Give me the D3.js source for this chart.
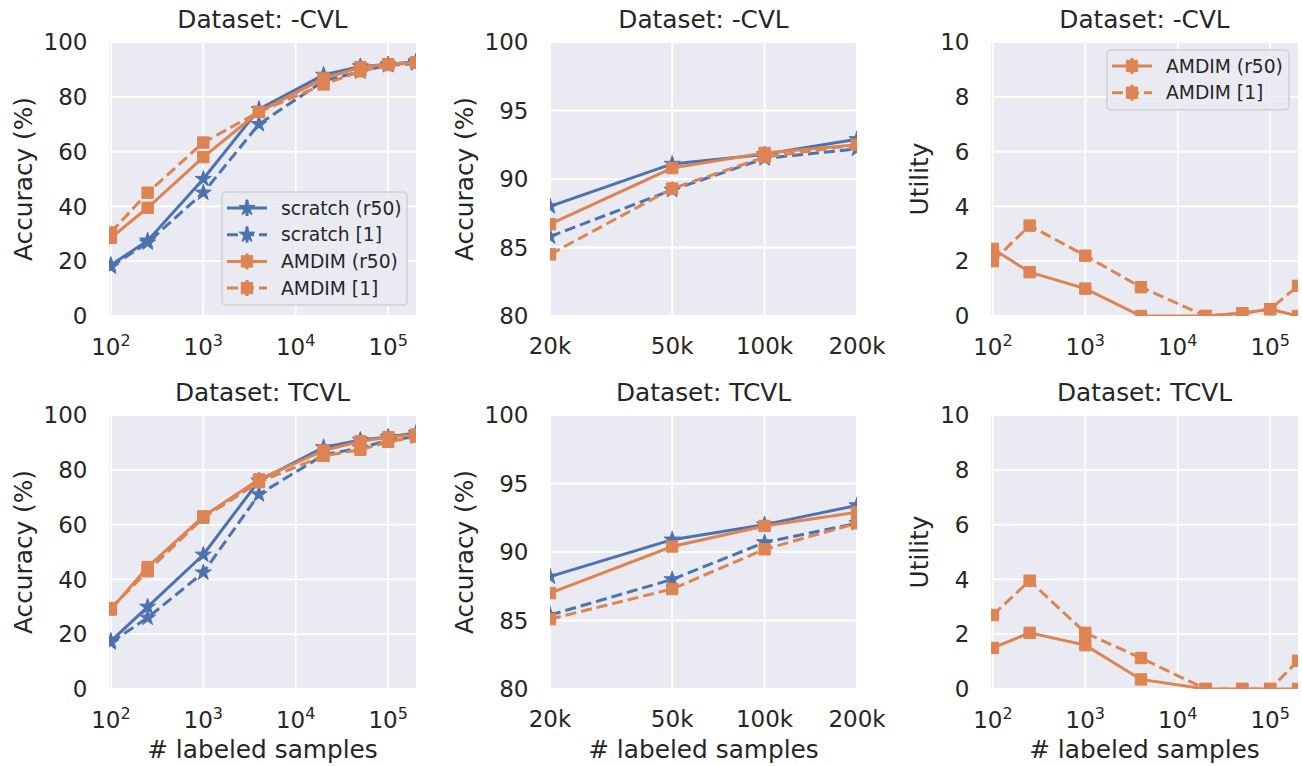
<!DOCTYPE html>
<html lang='en'>
<head>
<meta charset='utf-8'>
<title>Accuracy and utility vs labeled samples</title>
<script type='text/javascript' src='https://d3js.org/d3.v7.min.js'></script>
<style type='text/css'>
	body { margin: 0; background: #ffffff; }
	text { font-family: 'DejaVu Sans', sans-serif; fill: #262626; }
</style>
</head>
<body>
<script type='text/javascript'>
// number of labeled samples (x values)
var samples = [100, 250, 1000, 4000, 20000, 50000, 100000, 200000];

// Dataset: -CVL, accuracy (%)
var cvlScratchR50 = [18.6, 27.5, 50.0, 75.5, 88.0, 91.1, 91.8, 92.9];
var cvlScratch1   = [18.0, 26.8, 45.0, 70.0, 85.8, 89.2, 91.5, 92.2];
var cvlAmdimR50   = [28.5, 39.5, 58.0, 74.5, 86.7, 90.8, 91.9, 92.5];
var cvlAmdim1     = [30.5, 45.0, 63.3, 74.5, 84.5, 89.3, 91.6, 92.5];

// Dataset: TCVL, accuracy (%)
var tcvlScratchR50 = [17.5, 30.0, 49.0, 76.0, 88.2, 90.9, 92.0, 93.4];
var tcvlScratch1   = [17.0, 26.0, 42.5, 71.0, 85.4, 88.0, 90.7, 92.1];
var tcvlAmdimR50   = [29.0, 44.5, 63.0, 76.5, 87.0, 90.4, 91.9, 92.9];
var tcvlAmdim1     = [29.5, 43.0, 62.5, 75.5, 85.1, 87.3, 90.2, 92.1];

// utility
var cvlUtilR50  = [2.45, 1.6, 1.0, 0.0, 0.0, 0.1, 0.25, 0.0];
var cvlUtil1    = [2.0, 3.3, 2.2, 1.05, 0.0, 0.1, 0.25, 1.1];
var tcvlUtilR50 = [1.5, 2.05, 1.6, 0.35, 0.0, 0.0, 0.0, 0.0];
var tcvlUtil1   = [2.7, 3.95, 2.05, 1.13, 0.0, 0.0, 0.0, 1.03];

// tick labels
var logTicks = [100, 1000, 10000, 100000];
var logExps = ['2', '3', '4', '5'];
var zoomTicks = [20000, 50000, 100000, 200000];
var zoomTickLabels = ['20k', '50k', '100k', '200k'];
var accTicks = [0, 20, 40, 60, 80, 100];
var accZoomTicks = [80, 85, 90, 95, 100];
var utilTicks = [0, 2, 4, 6, 8, 10];

var blue = '#4c72b0', orange = '#dd8452';

var w = 1302, h = 766;
var lefts = [109, 550, 991];
var tops = [42, 415];
var pw = 307, ph = 274;

var svg = d3.select('body').append('svg').attr('width', w).attr('height', h);

function series(name, vals, color, dashed, marker) {
	return {name: name, values: samples.map(function(s, i) { return {x: s, y: vals[i]}; }),
		color: color, dashed: dashed, marker: marker};
}

function accSeries(a, b, c, d) {
	return [
		series('scratch (r50)', a, blue, false, 'star'),
		series('scratch [1]', b, blue, true, 'star'),
		series('AMDIM (r50)', c, orange, false, 'square'),
		series('AMDIM [1]', d, orange, true, 'square')
	];
}

var panels = [
	{col: 0, row: 0, title: 'Dataset: -CVL', kind: 'log', ylab: 'Accuracy (%)', yd: [0, 100], yt: accTicks,
		series: accSeries(cvlScratchR50, cvlScratch1, cvlAmdimR50, cvlAmdim1), legend: [232, 208, 185]},
	{col: 1, row: 0, title: 'Dataset: -CVL', kind: 'zoom', ylab: 'Accuracy (%)', yd: [80, 100], yt: accZoomTicks,
		series: accSeries(cvlScratchR50, cvlScratch1, cvlAmdimR50, cvlAmdim1)},
	{col: 2, row: 0, title: 'Dataset: -CVL', kind: 'log', ylab: 'Utility', yd: [0, 10], yt: utilTicks,
		series: [series('AMDIM (r50)', cvlUtilR50, orange, false, 'square'),
			series('AMDIM [1]', cvlUtil1, orange, true, 'square')], legend: [1117, 66, 182]},
	{col: 0, row: 1, title: 'Dataset: TCVL', kind: 'log', ylab: 'Accuracy (%)', yd: [0, 100], yt: accTicks,
		series: accSeries(tcvlScratchR50, tcvlScratch1, tcvlAmdimR50, tcvlAmdim1)},
	{col: 1, row: 1, title: 'Dataset: TCVL', kind: 'zoom', ylab: 'Accuracy (%)', yd: [80, 100], yt: accZoomTicks,
		series: accSeries(tcvlScratchR50, tcvlScratch1, tcvlAmdimR50, tcvlAmdim1)},
	{col: 2, row: 1, title: 'Dataset: TCVL', kind: 'log', ylab: 'Utility', yd: [0, 10], yt: utilTicks,
		series: [series('AMDIM (r50)', tcvlUtilR50, orange, false, 'square'),
			series('AMDIM [1]', tcvlUtil1, orange, true, 'square')]}
];

var starSym = d3.symbol().type(d3.symbolStar).size(80);
var squareSym = d3.symbol().type(d3.symbolSquare).size(130);

function drawMarker(sel, s) {
	sel.append('path')
		.attr('d', s.marker === 'star' ? starSym() : squareSym())
		.attr('fill', s.color)
		.attr('stroke', s.color)
		.attr('stroke-width', 1);
}

panels.forEach(function(p, pi) {
	var x0 = lefts[p.col], y0 = tops[p.row];
	var g = svg.append('g').attr('transform', 'translate(' + x0 + ',' + y0 + ')');

	var xScale = d3.scaleLog().range([0, pw]);
	if (p.kind === 'log') xScale.domain([95.5, 200000]);
	else xScale.domain([20000, 200000]);
	var yScale = d3.scaleLinear().domain(p.yd).range([ph, 0]);

	g.append('rect').attr('width', pw).attr('height', ph).attr('fill', '#eaeaf2');

	var xt = p.kind === 'log' ? logTicks : zoomTicks;

	// grid
	g.selectAll('.vg').data(xt).enter().append('line')
		.attr('x1', function(d) { return xScale(d); }).attr('x2', function(d) { return xScale(d); })
		.attr('y1', 0).attr('y2', ph)
		.attr('stroke', '#ffffff').attr('stroke-width', 1.8);
	g.selectAll('.hg').data(p.yt).enter().append('line')
		.attr('x1', 0).attr('x2', pw)
		.attr('y1', function(d) { return yScale(d); }).attr('y2', function(d) { return yScale(d); })
		.attr('stroke', '#ffffff').attr('stroke-width', 1.8);

	// y tick labels
	var ytl = g.selectAll('.yt').data(p.yt).enter().append('text')
		.attr('x', -21.5).attr('y', function(d) { return yScale(d); })
		.attr('dy', '0.36em')
		.attr('text-anchor', 'end')
		.style('font-size', '23px')
		.text(function(d) { return d; });

	// x tick labels
	if (p.kind === 'log') {
		xt.forEach(function(t, i) {
			var tx = g.append('text')
				.attr('x', xScale(t)).attr('y', ph + 39)
				.attr('text-anchor', 'middle')
				.style('font-size', '23px');
			tx.append('tspan').text('10');
			tx.append('tspan').attr('dy', -9).style('font-size', '16px').text(logExps[i]);
		});
	} else {
		g.selectAll('.xt').data(xt).enter().append('text')
			.attr('x', function(d) { return xScale(d); }).attr('y', ph + 38)
			.attr('text-anchor', 'middle')
			.style('font-size', '23px')
			.text(function(d, i) { return zoomTickLabels[i]; });
	}

	// y label, placed left of the widest tick label
	var minX = d3.min(ytl.nodes(), function(n) { return n.getBBox().x; });
	g.append('text')
		.attr('transform', 'translate(' + (minX - 12) + ',' + (ph / 2) + ') rotate(-90)')
		.attr('text-anchor', 'middle')
		.style('font-size', '24.8px')
		.text(p.ylab);

	// title
	g.append('text')
		.attr('x', pw / 2).attr('y', -14)
		.attr('text-anchor', 'middle')
		.style('font-size', '24.8px')
		.text(p.title);

	// x label on the bottom row
	if (p.row === 1) {
		g.append('text')
			.attr('x', pw / 2).attr('y', ph + 69)
			.attr('text-anchor', 'middle')
			.style('font-size', '24.8px')
			.text('# labeled samples');
	}

	// clip
	var clipId = 'clip' + pi;
	g.append('clipPath').attr('id', clipId)
		.append('rect').attr('width', pw).attr('height', ph);
	var plot = g.append('g').attr('clip-path', 'url(#' + clipId + ')');

	var line = d3.line()
		.x(function(d) { return xScale(d.x); })
		.y(function(d) { return yScale(d.y); });

	p.series.forEach(function(s) {
		var vals = s.values.filter(function(d) { return d.x >= xScale.domain()[0] * 0.99; });
		plot.append('path')
			.datum(vals)
			.attr('d', line)
			.attr('fill', 'none')
			.attr('stroke', s.color)
			.attr('stroke-width', 3)
			.attr('stroke-dasharray', s.dashed ? '11,5' : null);
		plot.selectAll(null).data(vals).enter().append('g')
			.attr('transform', function(d) { return 'translate(' + xScale(d.x) + ',' + yScale(d.y) + ')'; })
			.each(function() { drawMarker(d3.select(this), s); });
	});

	// legend
	if (p.legend) {
		var lx = p.legend[0] - x0, ly = p.legend[1] - y0;
		var rowH = 26.7;
		var boxW = p.legend[2];
		var lg = g.append('g');
		lg.append('rect')
			.attr('x', lx - 10).attr('y', ly - 16)
			.attr('width', boxW).attr('height', (p.series.length - 1) * rowH + 33)
			.attr('rx', 4)
			.attr('fill', '#eaeaf2').attr('fill-opacity', 0.8)
			.attr('stroke', '#cfcfd4').attr('stroke-width', 1.5);
		p.series.forEach(function(s, i) {
			var cy = ly + i * rowH;
			lg.append('line')
				.attr('x1', lx - 5).attr('x2', lx + 35)
				.attr('y1', cy).attr('y2', cy)
				.attr('stroke', s.color).attr('stroke-width', 3)
				.attr('stroke-dasharray', s.dashed ? '11,5' : null);
			lg.append('line')
				.attr('x1', lx + 15).attr('x2', lx + 15)
				.attr('y1', cy - 8).attr('y2', cy + 8)
				.attr('stroke', s.color).attr('stroke-width', 3);
			var mg = lg.append('g').attr('transform', 'translate(' + (lx + 15) + ',' + cy + ')');
			drawMarker(mg, s);
			lg.append('text')
				.attr('x', lx + 49).attr('y', cy)
				.attr('dy', '0.36em')
				.style('font-size', '18.7px')
				.text(s.name);
		});
	}
});
</script>
</body>
</html>
